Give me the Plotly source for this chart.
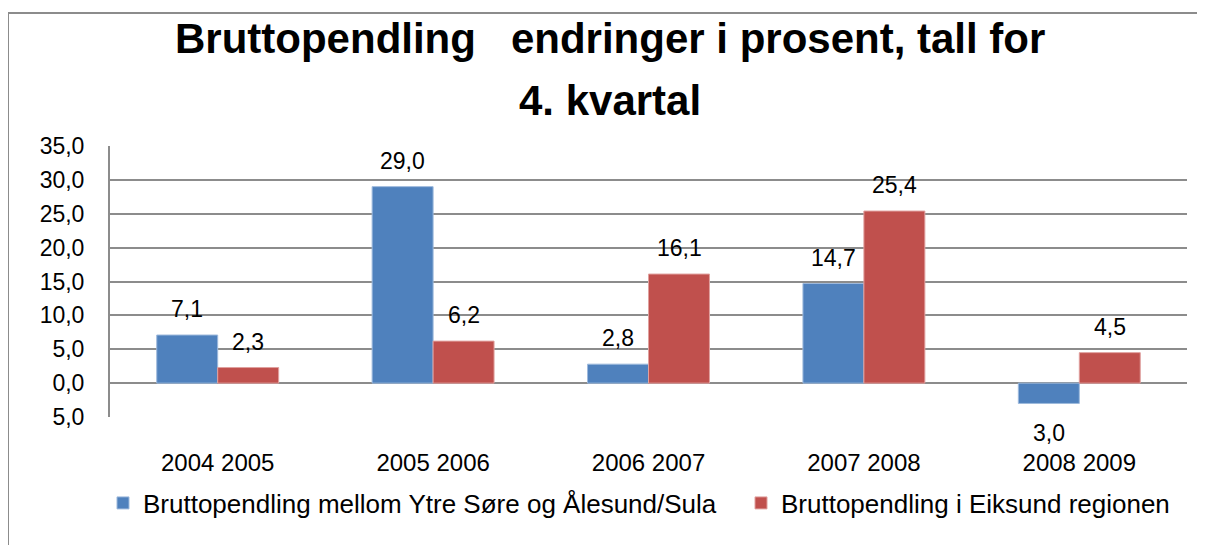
import plotly.graph_objects as go

categories = ["2004 2005", "2005 2006", "2006 2007", "2007 2008", "2008 2009"]
series_names = ["Bruttopendling mellom Ytre Søre og Ålesund/Sula",
                "Bruttopendling i Eiksund regionen"]
ytre_sore = [7.1, 29.0, 2.8, 14.7, -3.0]
eiksund = [2.3, 6.2, 16.1, 25.4, 4.5]
tick_vals = [-5, 0, 5, 10, 15, 20, 25, 30, 35]
tick_text = ["5,0", "0,0", "5,0", "10,0", "15,0", "20,0", "25,0", "30,0", "35,0"]
title_lines = ["Bruttopendling\u00a0\u00a0\u00a0endringer i prosent, tall for", "4. kvartal"]

colors = ["#4F81BD", "#C0504D"]
edge = ["#9DB9DC", "#E0A09E"]
FONT = "Liberation Sans, Arial, sans-serif"

OFF = 8  # page body margin
W, H = 1205 - OFF, 545 - OFF
L, R, T, B = 110 - OFF, 1187 - OFF, 146 - OFF, 417 - OFF
PW, PH = R - L, B - T


def px_x(p):
    return (p - OFF - L) / PW


def px_y(p):
    return (B - (p - OFF)) / PH


def fmt(v):
    return f"{abs(v):.1f}".replace(".", ",")


fig = go.Figure()
legend_ids = ["legend", "legend2"]
for name, vals, c, e, lg in zip(series_names, [ytre_sore, eiksund], colors, edge, legend_ids):
    fig.add_trace(go.Bar(
        x=categories, y=vals, name=name, legend=lg,
        marker=dict(color=c, line=dict(color=e, width=1)),
        hoverinfo="skip",
    ))

annotations = []
for k, vals in enumerate([ytre_sore, eiksund]):
    off = -30.5 if k == 0 else 30.5
    for cat, v in zip(categories, vals):
        annotations.append(dict(
            x=cat, y=v, xref="x", yref="y", text=fmt(v), showarrow=False,
            xshift=off, yshift=(26 if v >= 0 else -30), yanchor="middle",
            font=dict(family=FONT, size=23, color="#000000"),
        ))
for line, yc in zip(title_lines, [38, 100]):
    annotations.append(dict(
        x=px_x(610), y=px_y(yc), xref="paper", yref="paper", text=line,
        showarrow=False, xanchor="center", yanchor="middle",
        font=dict(family=FONT, size=42, color="#000000", weight="bold"),
    ))

legend_style = dict(
    orientation="h", yanchor="middle",
    font=dict(family=FONT, size=26, color="#000000"),
    bgcolor="rgba(0,0,0,0)", itemclick=False, itemdoubleclick=False,
)

fig.update_layout(
    width=W, height=H,
    margin=dict(l=L, r=W - R, t=T, b=H - B, autoexpand=False),
    paper_bgcolor="white", plot_bgcolor="white",
    barmode="group", bargap=0.434, bargroupgap=0,
    xaxis=dict(
        showgrid=False, showline=False, zeroline=False, ticks="",
        tickfont=dict(family=FONT, size=24, color="#000000"),
        ticklabelstandoff=29, automargin=False,
    ),
    yaxis=dict(
        range=[-5, 35], tickvals=tick_vals, ticktext=tick_text,
        showgrid=True, gridcolor="#8c8c8c", gridwidth=2,
        showline=True, linecolor="#8c8c8c", linewidth=2,
        zeroline=False, ticks="",
        tickfont=dict(family=FONT, size=23, color="#000000"),
        ticklabelstandoff=19, automargin=False,
    ),
    legend=dict(x=px_x(103), y=px_y(503), xanchor="left", **legend_style),
    legend2=dict(x=px_x(741), y=px_y(503), xanchor="left", **legend_style),
    showlegend=True,
    annotations=annotations,
    shapes=[dict(
        type="rect", xref="paper", yref="paper",
        x0=px_x(8), x1=px_x(1220),
        y0=px_y(560), y1=px_y(13),
        line=dict(color="#8c8c8c", width=2), fillcolor="rgba(0,0,0,0)",
        layer="below",
    )],
)

fig.write_html("out.html")
